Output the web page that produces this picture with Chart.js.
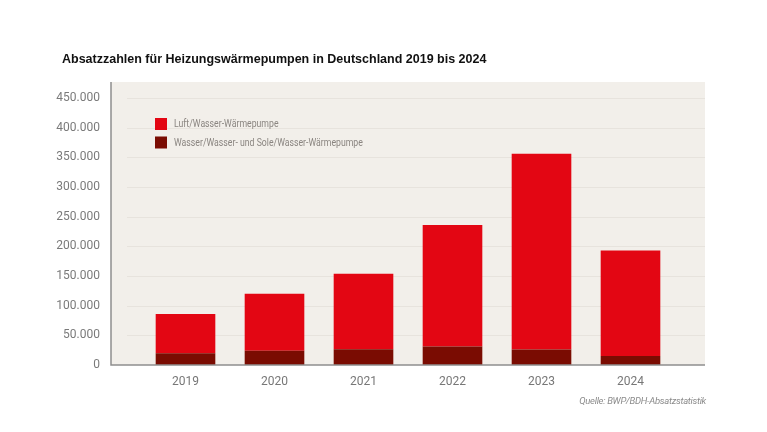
<!DOCTYPE html>
<html lang="de">
<head>
<meta charset="UTF-8">
<title>Absatzzahlen für Heizungswärmepumpen</title>
<script src="https://cdn.jsdelivr.net/npm/chart.js"></script>
<style>
    body { margin: 0; background: #fff; }
    .wrap { position: relative; width: 767px; height: 432px; }
    .wrap canvas { position: absolute; left: 0; top: 0; }
    h1 { position: absolute; left: 62px; top: 52px; margin: 0; z-index: 2;
         font: bold 12.5px "Liberation Sans", Arial, sans-serif; color: #111; }
    .source { position: absolute; right: 61px; top: 395px; z-index: 2; letter-spacing: -0.3px;
              font: italic 9.5px Roboto, sans-serif; color: #8c8c8c; }
</style>
</head>
<body>
<div class="wrap">
    <h1>Absatzzahlen für Heizungswärmepumpen in Deutschland 2019 bis 2024</h1>
    <canvas id="chart" width="767" height="432"></canvas>
    <div class="source">Quelle: BWP/BDH-Absatzstatistik</div>
</div>

<script>
    const years = ['2019', '2020', '2021', '2022', '2023', '2024'];
    // ground source (Wasser/Wasser + Sole/Wasser), bottom of stack
    const groundSource = [20000, 24000, 26500, 31000, 26000, 15000];
    // air source (Luft/Wasser), on top
    const airSource = [66000, 96000, 127500, 205000, 330000, 178000];
    const yTicks = [0, 50000, 100000, 150000, 200000, 250000, 300000, 350000, 400000, 450000];

    const EXTRA = 30; // plot background reaches past the bars on both sides
    const narrow = 'Roboto, sans-serif';

    function fmt(v) {
        return String(v).replace(/\B(?=(\d{3})+(?!\d))/g, '.');
    }

    const plotDecor = {
        id: 'plotDecor',
        beforeDatasetsDraw(chart) {
            const {ctx, chartArea: a, scales: {y}} = chart;
            const l = a.left - EXTRA, r = a.right + EXTRA;
            ctx.save();
            ctx.fillStyle = '#f2efea';
            ctx.fillRect(l, a.top, r - l, a.bottom - a.top);
            ctx.strokeStyle = '#e7e3dd';
            ctx.lineWidth = 1;
            y.ticks.forEach(t => {
                if (t.value === 0) return;
                const py = Math.round(y.getPixelForValue(t.value)) + 0.5;
                ctx.beginPath();
                ctx.moveTo(l + 16, py);
                ctx.lineTo(r, py);
                ctx.stroke();
            });
            ctx.restore();
        },
        afterDatasetsDraw(chart) {
            const {ctx, chartArea: a} = chart;
            const l = a.left - EXTRA, r = a.right + EXTRA;
            ctx.save();
            // axes
            ctx.strokeStyle = '#8e8e8e';
            ctx.lineWidth = 1.5;
            ctx.beginPath();
            ctx.moveTo(l, a.top);
            ctx.lineTo(l, a.bottom);
            ctx.lineTo(r, a.bottom);
            ctx.stroke();
            // legend inside the plot, first dataset listed first
            const order = [1, 0];
            ctx.font = '10.5px ' + narrow;
            ctx.textBaseline = 'middle';
            order.forEach((di, i) => {
                const ds = chart.data.datasets[di];
                const bx = l + 44, by = a.top + 36 + i * 18.5;
                ctx.fillStyle = ds.backgroundColor;
                ctx.fillRect(bx, by, 12, 12);
                ctx.fillStyle = '#8a8580';
                // squeeze the text a bit, the original uses a condensed face
                ctx.save();
                ctx.translate(bx + 19, by + 6.5);
                ctx.scale(0.83, 1);
                ctx.fillText(ds.label, 0, 0);
                ctx.restore();
            });
            ctx.restore();
        }
    };

    new Chart(document.getElementById('chart'), {
        type: 'bar',
        data: {
            labels: years,
            datasets: [
                {
                    label: 'Wasser/Wasser- und Sole/Wasser-Wärmepumpe',
                    data: groundSource,
                    backgroundColor: '#7a0c02'
                },
                {
                    label: 'Luft/Wasser-Wärmepumpe',
                    data: airSource,
                    backgroundColor: '#e30613'
                }
            ]
        },
        options: {
            responsive: false,
            animation: false,
            layout: {padding: {top: 82, right: 92, bottom: 0, left: 0}},
            datasets: {bar: {barPercentage: 0.67, categoryPercentage: 1}},
            plugins: {legend: {display: false}, tooltip: {enabled: false}},
            scales: {
                x: {
                    stacked: true,
                    grid: {display: false, drawTicks: false},
                    border: {display: false},
                    ticks: {color: '#777', padding: 10, font: {family: narrow, size: 12}},
                    afterFit(s) { s.height = 67; }
                },
                y: {
                    stacked: true,
                    min: 0,
                    max: 477000,
                    grid: {display: false, drawTicks: false},
                    border: {display: false},
                    afterBuildTicks(s) { s.ticks = yTicks.map(v => ({value: v})); },
                    afterFit(s) { s.width = 141; },
                    ticks: {
                        color: '#7a7a7a',
                        padding: 41,
                        font: {family: narrow, size: 12},
                        callback: v => fmt(v)
                    }
                }
            }
        },
        plugins: [plotDecor]
    });
</script>
</body>
</html>
